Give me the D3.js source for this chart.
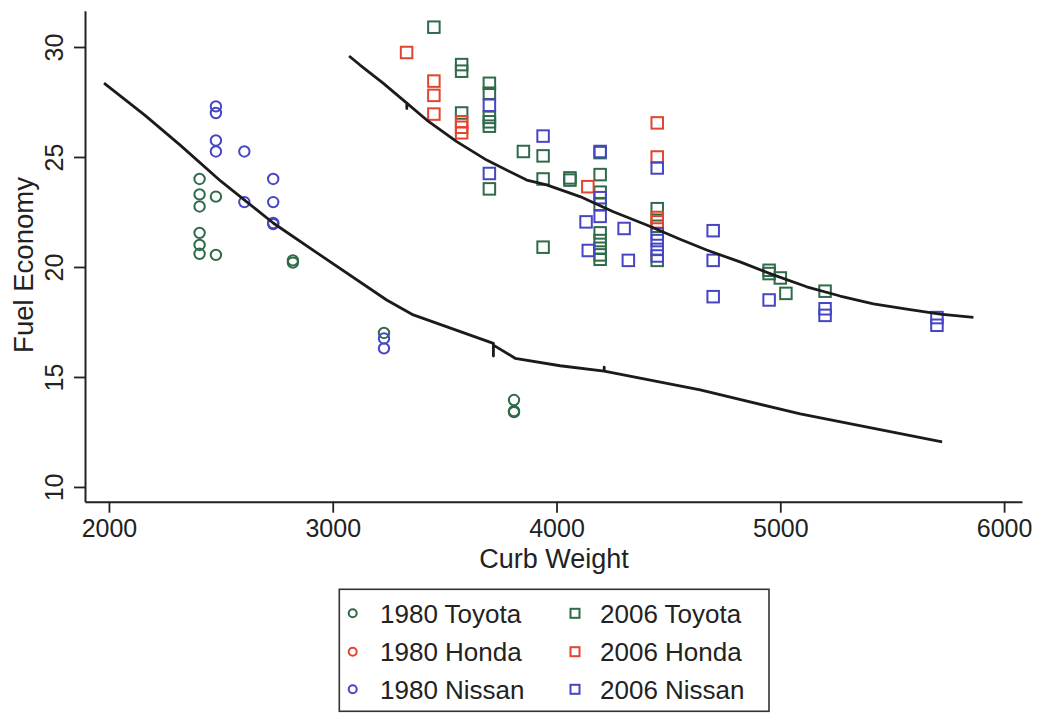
<!DOCTYPE html>
<html>
<head>
<meta charset="utf-8">
<script src="https://cdn.jsdelivr.net/npm/d3@7/dist/d3.min.js"></script>
<style>
  html, body { margin: 0; padding: 0; background: #fff; }
  svg text { font-family: "Liberation Sans", Arial, Helvetica, sans-serif; fill: #222; }
</style>
</head>
<body>
<svg id="chart" width="1039" height="713"></svg>
<script>
// Curb weight (lbs) vs fuel economy (mpg), [weight, mpg]
const toyota1980 = [[2405,24.0],[2405,23.3],[2478,23.2],[2405,22.75],[2405,21.55],[2405,21.0],[2405,20.6],[2478,20.55],[2822,20.3],[2822,20.2],[3229,17.0],[3810,13.95],[3810,13.45],[3810,13.4]];
const honda1980 = [];
const nissan1980 = [[2478,27.3],[2478,27.0],[2478,25.75],[2478,25.25],[2605,25.25],[2605,22.95],[2734,24.0],[2734,22.95],[2734,22.0],[2734,21.95],[3229,16.75],[3229,16.3]];

const toyota2006 = [[3452,30.9],[3576,29.2],[3576,28.9],[3576,27.0],[3700,28.35],[3700,27.9],[3700,26.8],[3700,26.6],[3700,26.4],[3700,23.55],[3852,25.25],[3940,25.05],[3940,24.0],[3940,20.9],[4060,24.05],[4060,23.95],[4195,25.2],[4195,24.2],[4195,23.4],[4195,22.85],[4195,21.55],[4195,21.2],[4195,20.85],[4195,20.55],[4195,20.35],[4450,22.65],[4450,21.85],[4450,20.3],[4950,19.85],[4950,19.7],[5000,19.5],[5025,18.8],[5200,18.9]];
const honda2006 = [[3330,29.75],[3452,28.45],[3452,27.8],[3452,26.95],[3576,26.6],[3576,26.35],[3576,26.1],[4140,23.65],[4450,26.55],[4450,25.0],[4450,22.25],[4450,22.05]];
const nissan2006 = [[3700,27.35],[3700,24.25],[3940,25.95],[4195,25.25],[4195,23.15],[4195,22.3],[4132,22.05],[4142,20.75],[4302,21.75],[4321,20.3],[4450,24.5],[4450,21.5],[4450,21.2],[4450,20.8],[4450,20.5],[4700,21.65],[4700,20.3],[4700,18.65],[4950,18.5],[5200,18.1],[5200,17.8],[5700,17.7],[5700,17.35]];

// Smoothed fits for each model year
const fit1980 = [[1978,28.36],[2160,26.9],[2317,25.55],[2500,23.9],[2734,22.0],[2943,20.55],[3241,18.5],[3360,17.82],[3718,16.53],[3718,15.95],[3718,16.45],[3815,15.85],[4016,15.51],[4213,15.27],[4213,15.45],[4213,15.27],[4642,14.41],[5089,13.32],[5723,12.05]];
const fit2006 = [[3073,29.59],[3122,29.18],[3225,28.36],[3331,27.45],[3331,27.2],[3331,27.45],[3420,26.68],[3554,25.70],[3688,24.86],[3867,23.95],[3956,23.73],[4105,23.20],[4254,22.51],[4403,21.91],[4552,21.26],[4671,20.77],[4820,20.23],[4969,19.64],[5118,19.10],[5267,18.68],[5416,18.32],[5565,18.08],[5714,17.86],[5863,17.71]];

const xTicks = [2000, 3000, 4000, 5000, 6000];
const yTicks = [10, 15, 20, 25, 30];

const GREEN = "#2f6b4a", RED = "#e2452f", BLUE = "#4646c4";

const series = [
  { label: "1980 Toyota", data: toyota1980, color: GREEN, shape: "circle" },
  { label: "1980 Honda",  data: honda1980,  color: RED,   shape: "circle" },
  { label: "1980 Nissan", data: nissan1980, color: BLUE,  shape: "circle" },
  { label: "2006 Toyota", data: toyota2006, color: GREEN, shape: "square" },
  { label: "2006 Honda",  data: honda2006,  color: RED,   shape: "square" },
  { label: "2006 Nissan", data: nissan2006, color: BLUE,  shape: "square" }
];

const svg = d3.select("#chart");

const x = d3.scaleLinear().domain([1893, 6080]).range([85, 1022]);
const y = d3.scaleLinear().domain([9.33, 31.65]).range([501.7, 10.7]);

// Markers
const plot = svg.append("g");
series.forEach(s => {
  const g = plot.append("g");
  if (s.shape === "circle") {
    g.selectAll("circle").data(s.data).join("circle")
      .attr("cx", d => x(d[0])).attr("cy", d => y(d[1])).attr("r", 5.2)
      .attr("fill", "none").attr("stroke", s.color).attr("stroke-width", 2);
  } else {
    const side = 11.5;
    g.selectAll("rect").data(s.data).join("rect")
      .attr("x", d => x(d[0]) - side / 2).attr("y", d => y(d[1]) - side / 2)
      .attr("width", side).attr("height", side)
      .attr("fill", "none").attr("stroke", s.color).attr("stroke-width", 2);
  }
});

// Fit lines
const line = d3.line().x(d => x(d[0])).y(d => y(d[1])).curve(d3.curveLinear);
[fit1980, fit2006].forEach(f => {
  svg.append("path").datum(f).attr("d", line)
    .attr("fill", "none").attr("stroke", "#1b1b1b").attr("stroke-width", 2.8)
    .attr("stroke-linejoin", "round");
});

// Axes
const xAxis = svg.append("g").attr("transform", "translate(0,501.7)")
  .call(d3.axisBottom(x).tickValues(xTicks).tickSize(11).tickSizeOuter(0).tickFormat(d3.format("d")));
const yAxis = svg.append("g").attr("transform", "translate(85,0)")
  .call(d3.axisLeft(y).tickValues(yTicks).tickSize(11).tickSizeOuter(0).tickFormat(d3.format("d")));

[xAxis, yAxis].forEach(a => {
  a.select(".domain").attr("stroke", "#222").attr("stroke-width", 2);
  a.selectAll(".tick line").attr("stroke", "#222").attr("stroke-width", 1.8);
  a.selectAll(".tick text").attr("fill", "#222").style("font-size", "25px")
    .style("font-family", '"Liberation Sans", Arial, sans-serif');
});
xAxis.selectAll(".tick text").attr("y", 18).attr("dy", "0.71em");
yAxis.selectAll(".tick text")
  .attr("x", null).attr("dy", null)
  .attr("text-anchor", "middle")
  .attr("transform", "translate(-22,0) rotate(-90)");

// Axis titles
svg.append("text").attr("x", 554).attr("y", 568).attr("text-anchor", "middle")
  .style("font-size", "27px").text("Curb Weight");
svg.append("text").attr("transform", "translate(33,265) rotate(-90)").attr("text-anchor", "middle")
  .style("font-size", "27.5px").text("Fuel Economy");

// Legend
const lg = svg.append("g");
lg.append("rect").attr("x", 339.3).attr("y", 589.3).attr("width", 429.7).attr("height", 122)
  .attr("fill", "#fff").attr("stroke", "#333").attr("stroke-width", 1.6);
const rowY = [613.3, 651.7, 689.3];
series.forEach((s, i) => {
  const col = s.shape === "circle" ? 0 : 1;
  const row = i % 3;
  const cy = rowY[row];
  const mx = col === 0 ? 352.7 : 575;
  const tx = col === 0 ? 380 : 600;
  if (s.shape === "circle") {
    lg.append("circle").attr("cx", mx).attr("cy", cy).attr("r", 4)
      .attr("fill", "none").attr("stroke", s.color).attr("stroke-width", 2);
  } else {
    lg.append("rect").attr("x", mx - 4.5).attr("y", cy - 4.5).attr("width", 9).attr("height", 9)
      .attr("fill", "none").attr("stroke", s.color).attr("stroke-width", 2);
  }
  lg.append("text").attr("x", tx).attr("y", cy + 9.5).style("font-size", "26px").text(s.label);
});
</script>
</body>
</html>
